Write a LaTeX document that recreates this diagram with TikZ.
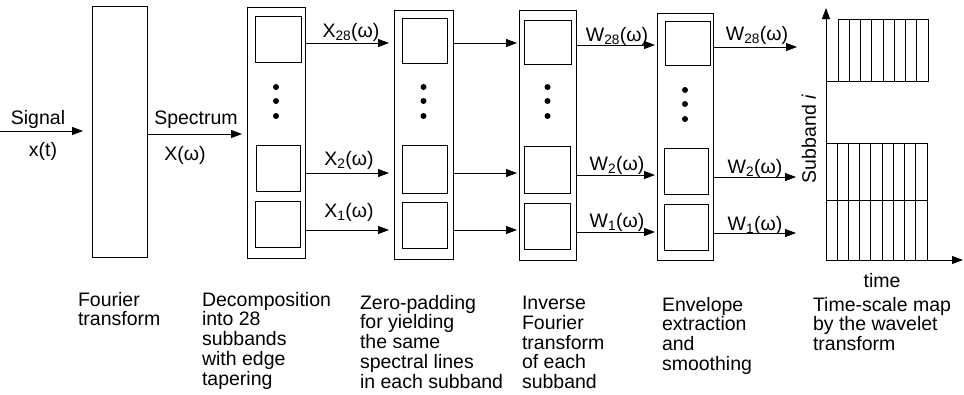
\documentclass[tikz,border=0pt]{standalone}
\usepackage{fontspec}
\setmainfont{Liberation Sans}
\usetikzlibrary{arrows.meta}
\begin{document}
\begin{tikzpicture}[x=1pt,y=-1pt,
  every node/.style={font=\fontsize{19.5}{19.8}\selectfont, inner sep=0pt, outer sep=0pt},
  box/.style={draw, line width=0.8pt, anchor=north west},
  arr/.style={-{Triangle[length=11pt,width=8pt]}, line width=0.8pt},
  grid/.style={line width=0.7pt},
  lbl/.style={anchor=base},
  txt/.style={anchor=north west, align=left}]
\useasboundingbox (0,0) rectangle (964,394);
% row coordinates
\coordinate (rs) at (0,131);
\coordinate (rp) at (0,134);
\coordinate (ra) at (0,43);
\coordinate (rb) at (0,173);
\coordinate (rc) at (0,230);
\coordinate (sa) at (0,45);
\coordinate (sb) at (0,175);
\coordinate (sc) at (0,232);
\coordinate (ta) at (0,47);
\coordinate (tb) at (0,177);
\coordinate (tc) at (0,233);
\coordinate (sig) at (0,131);
% Fourier box
\node[box, minimum width=55pt, minimum height=251pt] (b1) at (92,6) {};
% Decomposition box
\node[box, minimum width=58pt, minimum height=251pt] (b2) at (247,7) {};
\node[box, minimum width=46pt, minimum height=46pt] (b2a) at (255,16) {};
\node[box, minimum width=44pt, minimum height=46pt] (b2b) at (256,145) {};
\node[box, minimum width=45pt, minimum height=46pt] (b2c) at (255,201) {};
% Zero-padding box
\node[box, minimum width=59pt, minimum height=249pt] (b3) at (394,10) {};
\node[box, minimum width=45pt, minimum height=45pt] (b3a) at (402,18) {};
\node[box, minimum width=45pt, minimum height=48pt] (b3b) at (402,145) {};
\node[box, minimum width=45pt, minimum height=46pt] (b3c) at (402,202) {};
% Inverse FT box
\node[box, minimum width=57pt, minimum height=250pt] (b4) at (519,10) {};
\node[box, minimum width=47pt, minimum height=44pt] (b4a) at (524,20) {};
\node[box, minimum width=46pt, minimum height=47pt] (b4b) at (524,146) {};
\node[box, minimum width=46pt, minimum height=46pt] (b4c) at (524,203) {};
% Envelope box
\node[box, minimum width=56pt, minimum height=247pt] (b5) at (657,13) {};
\node[box, minimum width=45pt, minimum height=44pt] (b5a) at (665,21) {};
\node[box, minimum width=44pt, minimum height=46pt] (b5b) at (664,148) {};
\node[box, minimum width=44pt, minimum height=46pt] (b5c) at (664,204) {};
% dots
\foreach \b/\dy in {b2/0,b3/0,b4/0,b5/3}{
  \foreach \y in {87,101,116}{
    \fill (\b.north |- 0,\y+\dy) circle[radius=3pt];
  }
}
% input arrows
\coordinate (src) at (0,131);
\draw[arr, shorten >=9pt] (src) -- (b1.west |- src);
\node[lbl] (lsig) at (38,124) {Signal};
\node[lbl] (lxt) at (43,156) {x(t)};
\draw[arr, shorten >=5pt] (b1.east |- rp) -- (b2.west |- rp);
\node[lbl] (lspec) at (196,124) {Spectrum};
\node[lbl] (lX) at (185,160) {X(ω)};
% b2 -> b3
\draw[arr, shorten >=5pt] (b2.east |- ra) -- (b3.west |- ra);
\draw[arr, shorten >=5pt] (b2.east |- rb) -- (b3.west |- rb);
\draw[arr, shorten >=5pt] (b2.east |- rc) -- (b3.west |- rc);
\node[lbl] (lx28) at (351,37) {X\textsubscript{28}(ω)};
\node[lbl] (lx2) at (349,165) {X\textsubscript{2}(ω)};
\node[lbl] (lx1) at (349,217) {X\textsubscript{1}(ω)};
% b3 -> b4
\draw[arr, shorten >=2pt] (b3.east |- ra) -- (b4.west |- ra);
\draw[arr, shorten >=2pt] (b3.east |- rb) -- (b4.west |- rb);
\draw[arr, shorten >=2pt] (b3.east |- rc) -- (b4.west |- rc);
% b4 -> b5
\draw[arr, shorten >=2pt] (b4.east |- sa) -- (b5.west |- sa);
\draw[arr, shorten >=2pt] (b4.east |- sb) -- (b5.west |- sb);
\draw[arr, shorten >=2pt] (b4.east |- sc) -- (b5.west |- sc);
\node[lbl] (lw28a) at (617,41) {W\textsubscript{28}(ω)};
\node[lbl] (lw2a) at (617,170) {W\textsubscript{2}(ω)};
\node[lbl] (lw1a) at (617,227) {W\textsubscript{1}(ω)};
% outputs
\coordinate (oa) at (797,47);
\coordinate (ob) at (796,177);
\coordinate (oc) at (796,233);
\draw[arr] (b5.east |- oa) -- (oa);
\draw[arr] (b5.east |- ob) -- (ob);
\draw[arr] (b5.east |- oc) -- (oc);
\node[lbl] (lw28b) at (757,40) {W\textsubscript{28}(ω)};
\node[lbl] (lw2b) at (755,173) {W\textsubscript{2}(ω)};
\node[lbl] (lw1b) at (755,230) {W\textsubscript{1}(ω)};
% time-scale map
\coordinate (O) at (826,260);
\coordinate (ytop) at (826,8);
\coordinate (xend) at (963,260);
\draw[grid] (838,19) rectangle (928,81);
\foreach \k in {1,...,7}{\draw[grid] (838+11.25*\k,19) -- (838+11.25*\k,81);}
\draw[grid] (826,81) -- (838,81);
\draw[grid] (837,143) rectangle (927,260);
\foreach \k in {1,...,7}{\draw[grid] (837+11.25*\k,143) -- (837+11.25*\k,260);}
\draw[grid] (826,143) -- (837,143);
\draw[grid] (826,200) -- (927,200);
\draw[arr] (O) -- (ytop);
\draw[arr] (O) -- (xend);
\node[rotate=90] (lsub) at (809,139) {Subband \textit{i}};
\node[lbl] (ltime) at (882,287) {time};
% captions
\node[txt] (c1) at (78,292) {Fourier\\transform};
\node[txt] (c2) at (202,292) {Decomposition\\into 28\\subbands\\with edge\\tapering};
\node[txt] (c3) at (360,295) {Zero-padding\\for yielding\\the same\\spectral lines\\in each subband};
\node[txt] (c4) at (522,296) {Inverse\\Fourier\\transform\\of each\\subband};
\node[txt] (c5) at (662,297) {Envelope\\extraction\\and\\smoothing};
\node[txt] (c6) at (813,297) {Time-scale map\\by the wavelet\\transform};
\end{tikzpicture}
\end{document}
